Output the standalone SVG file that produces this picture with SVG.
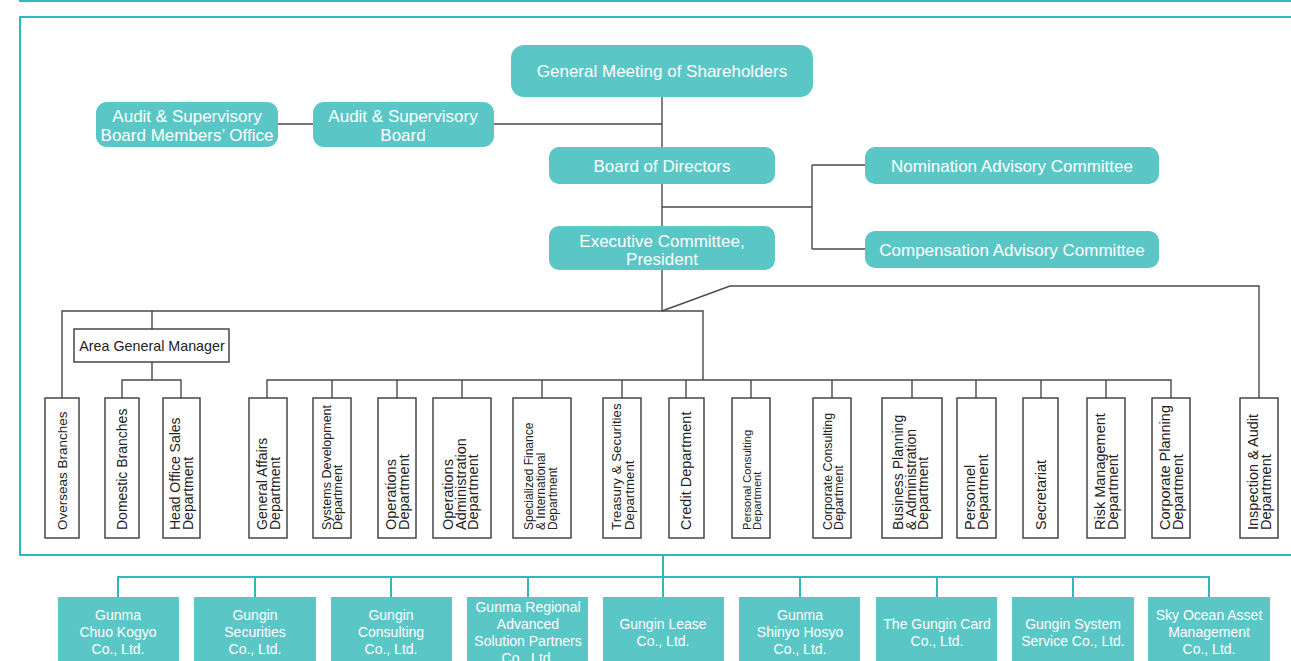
<svg xmlns="http://www.w3.org/2000/svg" width="1291" height="661" viewBox="0 0 1291 661">
<style>
.frame{fill:none;stroke:#2fb8b8;stroke-width:2}
.tl{fill:none;stroke:#2fb8b8;stroke-width:2}
.cn{fill:none;stroke:#4a4a4a;stroke-width:1.4}
.tb{fill:#5bc6c6}
.tt{font-family:"Liberation Sans",Arial,sans-serif;font-size:17px;fill:#fff;text-anchor:middle}
.st{font-family:"Liberation Sans",Arial,sans-serif;font-size:14px;fill:#fff;text-anchor:middle}
.db{fill:#fff;stroke:#3a3a3a;stroke-width:1.4}
.dt{font-family:"Liberation Sans",Arial,sans-serif;font-size:14.5px;fill:#222}
</style>
<rect width="1291" height="661" fill="#fff"/>
<path class="tl" d="M19,1 H1291"/>
<rect class="frame" x="20" y="17" width="1290" height="538"/>

<g id="connectors">
  <path class="cn" d="M662,97 V311"/>
  <path class="cn" d="M278,124 H313 M494,124 H662"/>
  <path class="cn" d="M662,207 H812 M812,165 V249 M812,165 H865 M812,249 H865"/>
  <path class="cn" d="M62,398 V311 H703 V380 M152,311 V329 M152,362 V380 M122,398 V380 H181 V398"/>
  <path class="cn" d="M267,398 V380 H1171 V398 M332,380 V398 M397,380 V398 M462,380 V398 M542,380 V398 M622,380 V398 M686,380 V398 M751,380 V398 M832,380 V398 M912,380 V398 M976,380 V398 M1041,380 V398 M1106,380 V398"/>
  <path class="cn" d="M662,311 L730,286 H1259 V398"/>
  <path class="tl" d="M663,555 V597 M118,597 V577 H1209 V597 M255,577 V597 M391,577 V597 M528,577 V597 M800,577 V597 M937,577 V597 M1073,577 V597"/>
</g>

<g id="gms"><rect class="tb" x="511" y="45" width="302" height="52" rx="13"/><text class="tt" x="662" y="77">General Meeting of Shareholders</text></g>
<g id="asbmo"><rect class="tb" x="96" y="102" width="182" height="45" rx="11"/><text class="tt" x="187" y="122">Audit &amp; Supervisory</text><text class="tt" x="187" y="141">Board Members’ Office</text></g>
<g id="asb"><rect class="tb" x="313" y="102" width="181" height="45" rx="11"/><text class="tt" x="403" y="122">Audit &amp; Supervisory</text><text class="tt" x="403" y="141">Board</text></g>
<g id="bod"><rect class="tb" x="549" y="147" width="226" height="37" rx="10"/><text class="tt" x="662" y="172">Board of Directors</text></g>
<g id="nac"><rect class="tb" x="865" y="147" width="294" height="37" rx="10"/><text class="tt" x="1012" y="172">Nomination Advisory Committee</text></g>
<g id="cac"><rect class="tb" x="865" y="231" width="294" height="37" rx="10"/><text class="tt" x="1012" y="256">Compensation Advisory Committee</text></g>
<g id="exec"><rect class="tb" x="549" y="226" width="226" height="44" rx="10"/><text class="tt" x="662" y="247">Executive Committee,</text><text class="tt" x="662" y="265">President</text></g>

<g id="agm"><rect class="db" x="74" y="329" width="155" height="33"/><text class="dt" x="152" y="351" text-anchor="middle" style="font-size:14.3px">Area General Manager</text></g>

<g id="d-overseas"><rect class="db" x="45" y="398" width="34" height="140"/><text class="dt" style="font-size:13.5px" transform="translate(62,530) rotate(-90)"><tspan x="0" y="5">Overseas Branches</tspan></text></g>
<g id="d-domestic"><rect class="db" x="105" y="398" width="34" height="140"/><text class="dt" style="font-size:14px" transform="translate(122,530) rotate(-90)"><tspan x="0" y="5">Domestic Branches</tspan></text></g>
<g id="d-headoffice"><rect class="db" x="163" y="398" width="37" height="140"/><text class="dt" style="font-size:14px" transform="translate(181,530) rotate(-90)"><tspan x="0" y="-1">Head Office Sales</tspan><tspan x="0" y="12">Department</tspan></text></g>
<g id="d-general"><rect class="db" x="249" y="398" width="38" height="140"/><text class="dt" style="font-size:14px" transform="translate(267,530) rotate(-90)"><tspan x="0" y="-0.5">General Affairs</tspan><tspan x="0" y="12.5">Department</tspan></text></g>
<g id="d-systems"><rect class="db" x="313" y="398" width="38" height="140"/><text class="dt" style="font-size:12.5px" transform="translate(332,530) rotate(-90)"><tspan x="0" y="-1">Systems Development</tspan><tspan x="0" y="10">Department</tspan></text></g>
<g id="d-operations"><rect class="db" x="378" y="398" width="38" height="140"/><text class="dt" transform="translate(397,530) rotate(-90)"><tspan x="0" y="-1">Operations</tspan><tspan x="0" y="12">Department</tspan></text></g>
<g id="d-opsadmin"><rect class="db" x="433" y="398" width="58" height="140"/><text class="dt" transform="translate(462,530) rotate(-90)"><tspan x="0" y="-9">Operations</tspan><tspan x="0" y="3.5">Administration</tspan><tspan x="0" y="16">Department</tspan></text></g>
<g id="d-specialized"><rect class="db" x="513" y="398" width="58" height="140"/><text class="dt" style="font-size:12px" transform="translate(542,530) rotate(-90)"><tspan x="0" y="-9">Specialized Finance</tspan><tspan x="0" y="3">&amp; International</tspan><tspan x="0" y="15">Department</tspan></text></g>
<g id="d-treasury"><rect class="db" x="603" y="398" width="38" height="140"/><text class="dt" style="font-size:13.3px" transform="translate(622,530) rotate(-90)"><tspan x="0" y="-1">Treasury &amp; Securities</tspan><tspan x="0" y="11.5">Department</tspan></text></g>
<g id="d-credit"><rect class="db" x="669" y="398" width="35" height="140"/><text class="dt" transform="translate(686,530) rotate(-90)"><tspan x="0" y="5">Credit Department</tspan></text></g>
<g id="d-personal"><rect class="db" x="732" y="398" width="38" height="140"/><text class="dt" style="font-size:11.2px" transform="translate(751,530) rotate(-90)"><tspan x="0" y="-0.5">Personal Consulting</tspan><tspan x="0" y="10">Department</tspan></text></g>
<g id="d-corpconsult"><rect class="db" x="813" y="398" width="38" height="140"/><text class="dt" style="font-size:12.4px" transform="translate(832,530) rotate(-90)"><tspan x="0" y="-0.5">Corporate Consulting</tspan><tspan x="0" y="11">Department</tspan></text></g>
<g id="d-business"><rect class="db" x="882" y="398" width="60" height="140"/><text class="dt" style="font-size:14px" transform="translate(912,530) rotate(-90)"><tspan x="0" y="-9">Business Planning</tspan><tspan x="0" y="3.5">&amp; Administration</tspan><tspan x="0" y="16">Department</tspan></text></g>
<g id="d-personnel"><rect class="db" x="957" y="398" width="39" height="140"/><text class="dt" transform="translate(976,530) rotate(-90)"><tspan x="0" y="-1">Personnel</tspan><tspan x="0" y="12">Department</tspan></text></g>
<g id="d-secretariat"><rect class="db" x="1023" y="398" width="35" height="140"/><text class="dt" transform="translate(1041,530) rotate(-90)"><tspan x="0" y="5">Secretariat</tspan></text></g>
<g id="d-risk"><rect class="db" x="1087" y="398" width="38" height="140"/><text class="dt" transform="translate(1106,530) rotate(-90)"><tspan x="0" y="-1">Risk Management</tspan><tspan x="0" y="12">Department</tspan></text></g>
<g id="d-corpplanning"><rect class="db" x="1152" y="398" width="38" height="140"/><text class="dt" transform="translate(1171,530) rotate(-90)"><tspan x="0" y="-1">Corporate Planning</tspan><tspan x="0" y="12">Department</tspan></text></g>
<g id="d-inspection"><rect class="db" x="1240" y="398" width="38" height="140"/><text class="dt" transform="translate(1259,530) rotate(-90)"><tspan x="0" y="-1">Inspection &amp; Audit</tspan><tspan x="0" y="12">Department</tspan></text></g>

<g id="s1"><rect class="tb" x="58" y="597" width="121" height="70"/><text class="st" x="118" y="620">Gunma</text><text class="st" x="118" y="637">Chuo Kogyo</text><text class="st" x="118" y="654">Co., Ltd.</text></g>
<g id="s2"><rect class="tb" x="194" y="597" width="122" height="70"/><text class="st" x="255" y="620">Gungin</text><text class="st" x="255" y="637">Securities</text><text class="st" x="255" y="654">Co., Ltd.</text></g>
<g id="s3"><rect class="tb" x="331" y="597" width="121" height="70"/><text class="st" x="391" y="620">Gungin</text><text class="st" x="391" y="637">Consulting</text><text class="st" x="391" y="654">Co., Ltd.</text></g>
<g id="s4"><rect class="tb" x="467" y="597" width="121" height="70"/><text class="st" x="528" y="612">Gunma Regional</text><text class="st" x="528" y="629">Advanced</text><text class="st" x="528" y="646">Solution Partners</text><text class="st" x="528" y="663">Co., Ltd.</text></g>
<g id="s5"><rect class="tb" x="603" y="597" width="121" height="70"/><text class="st" x="663" y="629">Gungin Lease</text><text class="st" x="663" y="646">Co., Ltd.</text></g>
<g id="s6"><rect class="tb" x="739" y="597" width="121" height="70"/><text class="st" x="800" y="620">Gunma</text><text class="st" x="800" y="637">Shinyo Hosyo</text><text class="st" x="800" y="654">Co., Ltd.</text></g>
<g id="s7"><rect class="tb" x="876" y="597" width="121" height="70"/><text class="st" x="937" y="629">The Gungin Card</text><text class="st" x="937" y="646">Co., Ltd.</text></g>
<g id="s8"><rect class="tb" x="1012" y="597" width="122" height="70"/><text class="st" x="1073" y="629">Gungin System</text><text class="st" x="1073" y="646">Service Co., Ltd.</text></g>
<g id="s9"><rect class="tb" x="1148" y="597" width="122" height="70"/><text class="st" x="1209" y="620">Sky Ocean Asset</text><text class="st" x="1209" y="637">Management</text><text class="st" x="1209" y="654">Co., Ltd.</text></g>
</svg>
